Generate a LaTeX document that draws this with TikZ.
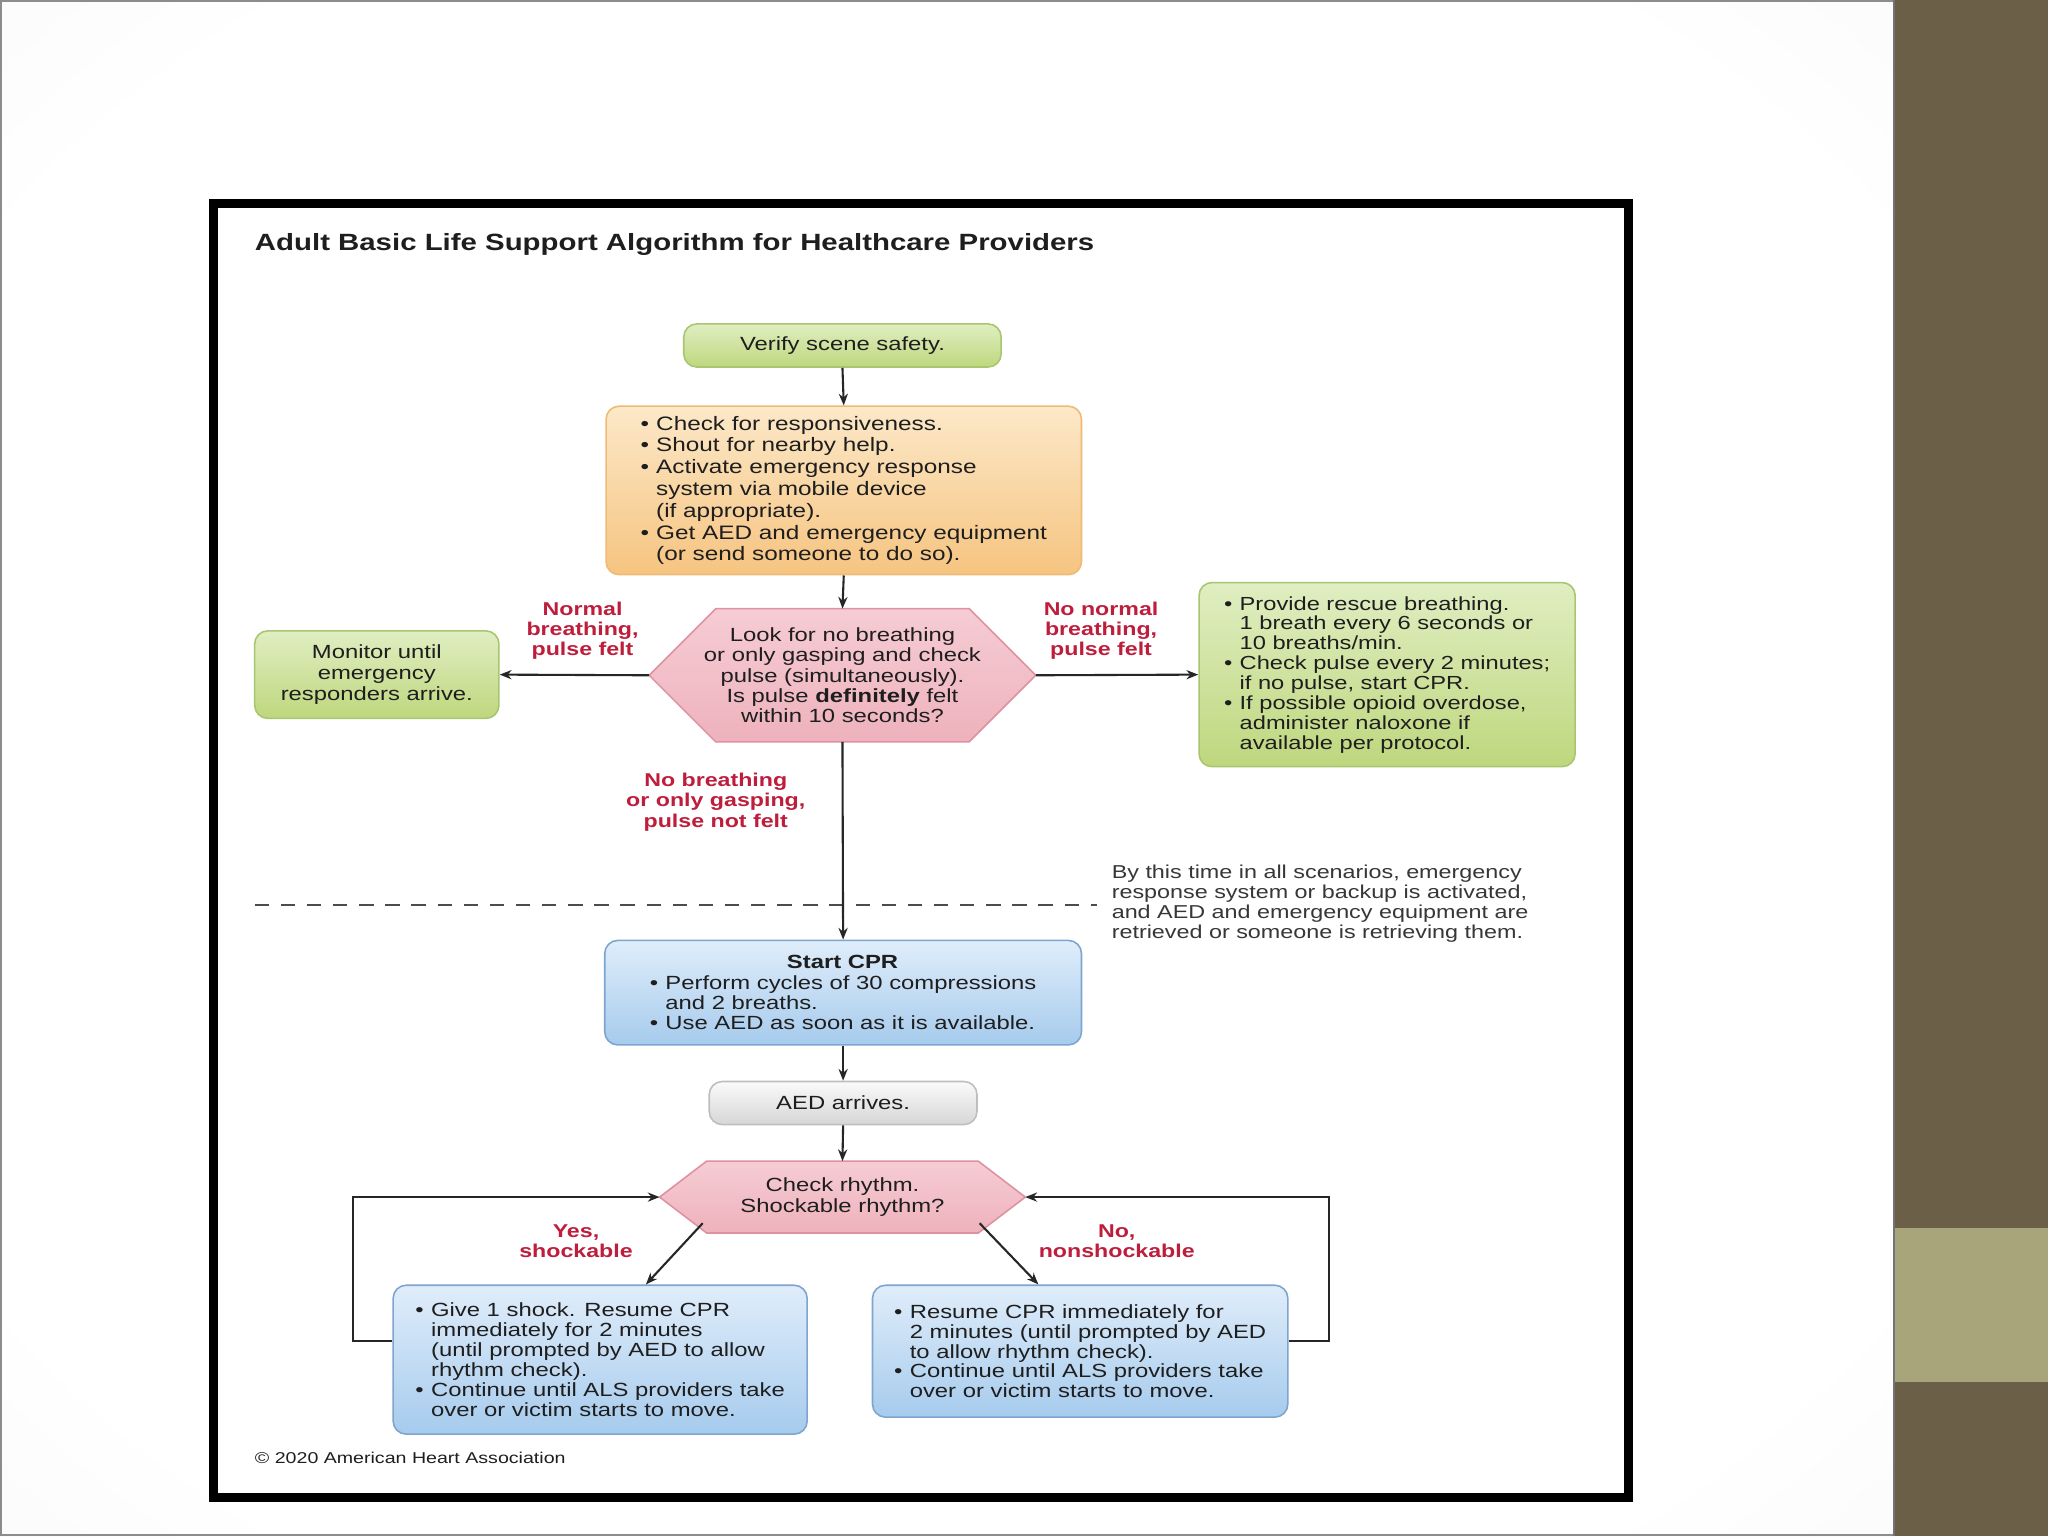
\documentclass[tikz,border=0pt]{standalone}
\usepackage{fontspec}
\setmainfont{Liberation Sans}[FakeStretch=1.25]
\usetikzlibrary{arrows.meta,calc}
\definecolor{bandD}{RGB}{107,95,72}
\definecolor{bandL}{RGB}{168,165,123}
\definecolor{slideG}{RGB}{222,222,227}
\definecolor{txt}{RGB}{30,30,30}
\definecolor{notec}{RGB}{55,55,55}
\definecolor{lblred}{RGB}{190,30,60}
\definecolor{grnT}{RGB}{224,238,194}
\definecolor{grnB}{RGB}{190,215,125}
\definecolor{grnD}{RGB}{168,198,112}
\definecolor{orgT}{RGB}{252,232,200}
\definecolor{orgB}{RGB}{246,196,128}
\definecolor{orgD}{RGB}{238,186,118}
\definecolor{pnkT}{RGB}{246,204,212}
\definecolor{pnkB}{RGB}{238,178,188}
\definecolor{pnkD}{RGB}{222,145,160}
\definecolor{bluT}{RGB}{224,237,250}
\definecolor{bluB}{RGB}{166,203,237}
\definecolor{bluD}{RGB}{125,165,208}
\definecolor{gryT}{RGB}{250,250,250}
\definecolor{gryB}{RGB}{214,214,214}
\definecolor{gryD}{RGB}{190,190,190}
\pgfdeclareradialshading{slidebg}{\pgfpoint{0bp}{0bp}}{%
  color(0bp)=(white); color(30bp)=(white); color(52bp)=(white!55!slideG);
  color(71bp)=(slideG); color(72bp)=(slideG)}
\newcommand\fsz[2]{\fontsize{#1}{#2}\selectfont\lineskiplimit=-50pt\relax}
\newcommand\bul{\makebox[12pt][l]{•}}
\newcommand\ind{\hspace*{12pt}}
\tikzset{
  box/.style={rounded corners=10pt, line width=1.2pt, align=center, inner sep=0pt,
    text=txt, font=\fsz{14.6}{16.7}},
  gbox/.style={box, draw=grnD, top color=grnT, bottom color=grnB},
  obox/.style={box, draw=orgD, top color=orgT, bottom color=orgB},
  bbox/.style={box, draw=bluD, top color=bluT, bottom color=bluB},
  ggbox/.style={box, draw=gryD, top color=gryT, bottom color=gryB},
  hexs/.style={draw=pnkD, line width=1.2pt, top color=pnkT, bottom color=pnkB},
  htext/.style={align=center, inner sep=0pt, text=txt, font=\fsz{14.6}{15.5}},
  lbl/.style={align=center, inner sep=0pt, text=lblred, font=\fsz{14.2}{15.5}\bfseries},
  arr/.style={-{Stealth[length=9pt,width=7pt]}, line width=1.6pt, draw=black!85},
  dashline/.style={line width=1.6pt, draw=black!70, dash pattern=on 11pt off 9pt}
}
\begin{document}
\begin{tikzpicture}[x=1pt,y=-1pt]
\useasboundingbox (0,0) rectangle (1568,1176);
% slide background
\shade[shading=slidebg] (0,0) rectangle (1450,1176);
\draw[black!45, line width=1.2pt] (1450,0.6) -- (0.6,0.6) -- (0.6,1175.4) -- (1450,1175.4);
\fill[bandD] (1450,0) rectangle (1568,1176);
\fill[bandL] (1450,940) rectangle (1568,1058);
\draw[black!55, line width=1pt] (1450,0) -- (1450,1176);
% frame
\draw[line width=7pt, fill=white] (163.5,155.5) rectangle (1246.5,1146.5);
% title
\node[anchor=west, inner sep=0pt, text=txt, font=\fsz{18}{26}\bfseries] (title) at (195,187)
  {Adult Basic Life Support Algorithm for Healthcare Providers};
% top part
\node[gbox, minimum width=243pt, minimum height=33pt] (verify) at (645,264.5) {Verify scene safety.};
\node[obox, minimum width=364pt, minimum height=129pt, align=left, font=\fsz{14.9}{16.7}] (resp) at (646,375.5)
  {\bul Check for responsiveness.\\
   \bul Shout for nearby help.\\
   \bul Activate emergency response\\
   \ind system via mobile device\\
   \ind (if appropriate).\\
   \bul Get AED and emergency equipment\\
   \ind (or send someone to do so).};
% hexagon 1
\coordinate (h1) at (645,517);
\path[hexs] ($(h1)+(-148,0)$) -- ($(h1)+(-97,-51)$) -- ($(h1)+(97,-51)$) -- ($(h1)+(148,0)$)
  -- ($(h1)+(97,51)$) -- ($(h1)+(-97,51)$) -- cycle;
\coordinate (lookW) at ($(h1)+(-148,0)$);
\coordinate (lookE) at ($(h1)+(148,0)$);
\coordinate (lookN) at ($(h1)+(0,-51)$);
\coordinate (lookS) at ($(h1)+(0,51)$);
\node[htext] (look) at (h1)
  {Look for no breathing\\
   or only gasping and check\\
   pulse (simultaneously).\\
   Is pulse \textbf{definitely} felt\\
   within 10 seconds?};
\node[gbox, minimum width=187pt, minimum height=67pt, font=\fsz{14.6}{16}] (monitor) at (288.5,516.5)
  {Monitor until\\emergency\\responders arrive.};
\node[gbox, minimum width=288pt, minimum height=141pt, align=left, font=\fsz{14.5}{15.2}] (rescue) at (1062,516.5)
  {\bul Provide rescue breathing.\\
   \ind 1 breath every 6 seconds or\\
   \ind 10 breaths/min.\\
   \bul Check pulse every 2 minutes;\\
   \ind if no pulse, start CPR.\\
   \bul If possible opioid overdose,\\
   \ind administer naloxone if\\
   \ind available per protocol.};
\node[lbl] (lblL) at (446,483) {Normal\\breathing,\\pulse felt};
\node[lbl] (lblR) at (843,483) {No normal\\breathing,\\pulse felt};
\node[lbl] (lblD) at (548,614) {No breathing\\or only gasping,\\pulse not felt};
\draw[arr] (verify.south) -- (resp.north);
\draw[arr] (resp.south) -- (lookN);
\draw[arr] (lookW) -- (monitor.east);
\draw[arr] (lookE) -- (rescue.west);
% dashed separator
\coordinate (dashL) at (195,693);
\coordinate (dashR) at (840,693);
\draw[dashline] (dashL) -- (dashR);
\node[anchor=west, align=left, inner sep=0pt, text=notec, font=\fsz{14.3}{15.4}] (note) at (851,692)
  {By this time in all scenarios, emergency\\
   response system or backup is activated,\\
   and AED and emergency equipment are\\
   retrieved or someone is retrieving them.};
% CPR
\node[bbox, minimum width=365pt, minimum height=80pt, align=left, font=\fsz{14.6}{15.5}] (cpr) at (645.5,760)
  {\hspace*{105pt}\textbf{Start CPR}\\
   \bul Perform cycles of 30 compressions\\
   \ind and 2 breaths.\\
   \bul Use AED as soon as it is available.};
\draw[arr] (lookS) -- (cpr.north);
\node[ggbox, minimum width=205pt, minimum height=33pt] (aed) at (645.5,844.5) {AED arrives.};
\draw[arr] (cpr.south) -- (aed.north);
% hexagon 2
\coordinate (h2) at (645,916.5);
\path[hexs] ($(h2)+(-140,0)$) -- ($(h2)+(-104,-27.5)$) -- ($(h2)+(104,-27.5)$) -- ($(h2)+(140,0)$)
  -- ($(h2)+(104,27.5)$) -- ($(h2)+(-104,27.5)$) -- cycle;
\coordinate (rhyW) at ($(h2)+(-140,0)$);
\coordinate (rhyE) at ($(h2)+(140,0)$);
\coordinate (rhyN) at ($(h2)+(0,-27.5)$);
\coordinate (rhyDL) at ($(h2)+(-107,20)$);
\coordinate (rhyDR) at ($(h2)+(105,20)$);
\node[htext, font=\fsz{14.6}{16}] (rhythm) at (h2) {Check rhythm.\\Shockable rhythm?};
\draw[arr] (aed.south) -- (rhyN);
\node[bbox, minimum width=317pt, minimum height=114pt, align=left, font=\fsz{14.6}{15.3}] (shock) at (459.5,1041)
  {\bul Give 1 shock. Resume CPR\\
   \ind immediately for 2 minutes\\
   \ind (until prompted by AED to allow\\
   \ind rhythm check).\\
   \bul Continue until ALS providers take\\
   \ind over or victim starts to move.};
\node[bbox, minimum width=318pt, minimum height=101pt, align=left, font=\fsz{14.6}{15.1}] (noshock) at (827,1034.5)
  {\bul Resume CPR immediately for\\
   \ind 2 minutes (until prompted by AED\\
   \ind to allow rhythm check).\\
   \bul Continue until ALS providers take\\
   \ind over or victim starts to move.};
\draw[arr] (rhyDL) -- ([xshift=35pt]shock.north);
\draw[arr] (rhyDR) -- ([xshift=-32pt]noshock.north);
\draw[arr] ([yshift=14pt]shock.west) -- ++(-30,0) |- (rhyW);
\draw[arr] ([yshift=7.5pt]noshock.east) -- ++(31,0) |- (rhyE);
\node[lbl] (lblY) at (441,950) {Yes,\\shockable};
\node[lbl] (lblN) at (855,950) {No,\\nonshockable};
% footer
\node[anchor=west, inner sep=0pt, text=txt, font=\fsz{12}{18}] (copy) at (195,1116)
  {© 2020 American Heart Association};
\end{tikzpicture}
\end{document}
